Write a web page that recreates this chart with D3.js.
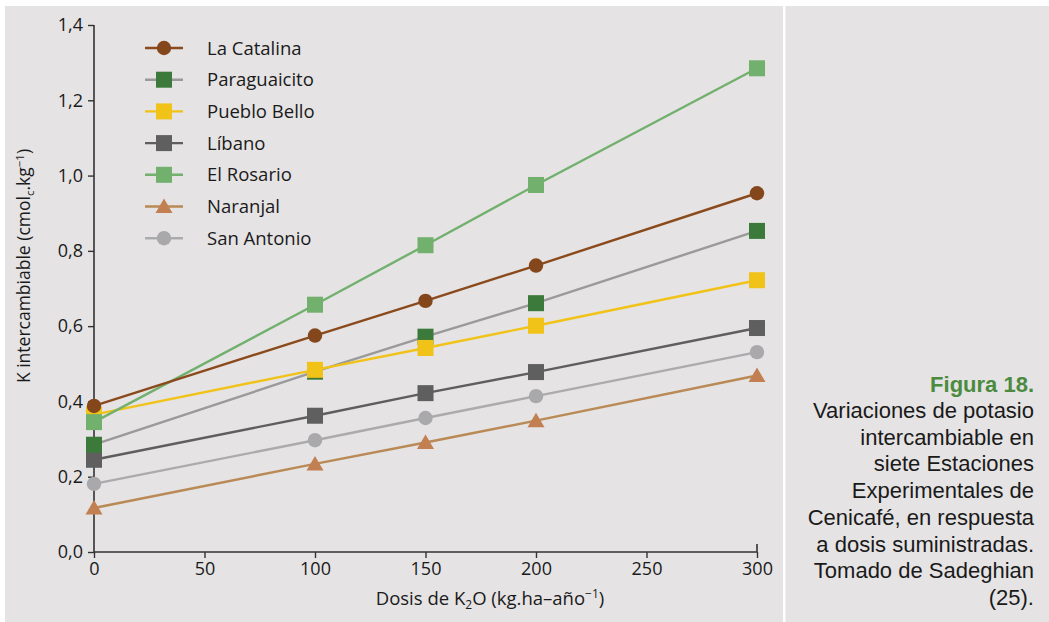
<!DOCTYPE html>
<html><head><meta charset="utf-8">
<script src="https://cdn.jsdelivr.net/npm/d3@7"></script>
<style>
html,body{margin:0;padding:0;background:#fff;}
svg{display:block;}
</style></head>
<body>
<svg id="c" width="1049" height="622"></svg>
<script>
const doses = [0, 100, 150, 200, 300];
const xTicks = [0, 50, 100, 150, 200, 250, 300];
const yTicks = [0, 0.2, 0.4, 0.6, 0.8, 1.0, 1.2, 1.4];
const seriesNames = ["La Catalina", "Paraguaicito", "Pueblo Bello", "Líbano", "El Rosario", "Naranjal", "San Antonio"];
const laCatalina   = [0.388, 0.575, 0.667, 0.761, 0.953];
const paraguaicito = [0.285, 0.479, 0.572, 0.661, 0.853];
const puebloBello  = [0.365, 0.484, 0.542, 0.601, 0.722];
const libano       = [0.245, 0.362, 0.422, 0.478, 0.595];
const elRosario    = [0.345, 0.657, 0.815, 0.975, 1.285];
const naranjal     = [0.117, 0.234, 0.291, 0.349, 0.469];
const sanAntonio   = [0.181, 0.297, 0.356, 0.414, 0.531];
const captionLines = ["Variaciones de potasio", "intercambiable en", "siete Estaciones", "Experimentales de", "Cenicafé, en respuesta", "a dosis suministradas.", "Tomado de Sadeghian", "(25)."];

const styles = [
  {line:"#8a4a1c", fill:"#84461b", shape:"circle"},
  {line:"#9a9a9a", fill:"#3b7a3a", shape:"square"},
  {line:"#f1c319", fill:"#f1c319", shape:"square"},
  {line:"#5e5e5e", fill:"#5f5f5f", shape:"square"},
  {line:"#72b06e", fill:"#72b06e", shape:"square"},
  {line:"#b98a55", fill:"#c27f52", shape:"triangle"},
  {line:"#ababad", fill:"#a9a9ab", shape:"circle"}
];
const values = [laCatalina, paraguaicito, puebloBello, libano, elRosario, naranjal, sanAntonio];
const series = seriesNames.map((n,i)=>({name:n, vals:values[i], st:styles[i]}));

const svg = d3.select("#c");
const font = "'Open Sans', 'Noto Sans', sans-serif";

svg.append("rect").attr("x",5).attr("y",6).attr("width",1044).attr("height",616).attr("fill","#e5e3e4");
svg.append("rect").attr("x",783).attr("y",6).attr("width",2.5).attr("height",616).attr("fill","#ffffff");

const x = d3.scaleLinear().domain([0,300]).range([94,757]);
const y = d3.scaleLinear().domain([0,1.4]).range([552,25]);

const fmt = d => d3.format(".1f")(d).replace(".", ",");

const gy = svg.append("g").attr("transform","translate(94,0)")
  .call(d3.axisLeft(y).tickValues(yTicks).tickFormat(fmt).tickSize(6).tickPadding(5));
const gx = svg.append("g").attr("transform","translate(0,552)")
  .call(d3.axisBottom(x).tickValues(xTicks).tickFormat(d3.format("d")).tickSize(6).tickPadding(4));
[gy,gx].forEach(g=>{
  g.select(".domain").attr("stroke","#333").attr("stroke-width",1.6);
  g.selectAll(".tick line").attr("stroke","#333").attr("stroke-width",1.4);
  g.selectAll(".tick text").attr("fill","#1a1a1a").style("font-family",font).style("font-size","18px");
});
gx.select(".domain").attr("d","M94,0H757V-8");
gy.select(".domain").attr("d","M0,25V552");

function marker(g, st, cx, cy){
  if(st.shape==="circle"){
    g.append("circle").attr("cx",cx).attr("cy",cy).attr("r",7.2).attr("fill",st.fill);
  } else if(st.shape==="square"){
    g.append("rect").attr("x",cx-8).attr("y",cy-8).attr("width",16).attr("height",16).attr("fill",st.fill);
  } else {
    g.append("path").attr("d",`M${cx},${cy-8}L${cx+8.5},${cy+6.5}L${cx-8.5},${cy+6.5}Z`).attr("fill",st.fill);
  }
}

const line = d3.line().x((d,i)=>x(doses[i])).y(d=>y(d));
const plot = svg.append("g");
const order = [6,5,3,1,2,4,0];
order.forEach(i=>{
  const s = series[i];
  plot.append("path").attr("d",line(s.vals)).attr("fill","none").attr("stroke",s.st.line).attr("stroke-width",2.4);
});
order.forEach(i=>{
  const s = series[i];
  s.vals.forEach((v,j)=>marker(plot, s.st, x(doses[j]), y(v)));
});

// legend
const leg = svg.append("g");
series.forEach((s,i)=>{
  const cy = 48 + i*31.7;
  leg.append("line").attr("x1",145).attr("x2",183).attr("y1",cy).attr("y2",cy).attr("stroke",s.st.line).attr("stroke-width",2.4);
  marker(leg, s.st, 164, cy);
  leg.append("text").attr("x",207).attr("y",cy+6.5).text(s.name)
    .style("font-family",font).style("font-size","18.5px").attr("fill","#1a1a1a");
});

// axis titles
const yt = svg.append("text").attr("transform","translate(30,266) rotate(-90)").attr("text-anchor","middle")
  .style("font-family",font).style("font-size","17.5px").attr("fill","#1a1a1a");
yt.append("tspan").text("K intercambiable (cmol");
yt.append("tspan").text("c").attr("dy",4).style("font-size","11.5px");
yt.append("tspan").text(".kg").attr("dy",-4);
yt.append("tspan").text("−1").attr("dy",-6).style("font-size","11.5px");
yt.append("tspan").text(")").attr("dy",6);

const xt = svg.append("text").attr("x",490).attr("y",605).attr("text-anchor","middle")
  .style("font-family",font).style("font-size","18.5px").attr("fill","#1a1a1a");
xt.append("tspan").text("Dosis de K");
xt.append("tspan").text("2").attr("dy",4).style("font-size","12px");
xt.append("tspan").text("O (kg.ha–año").attr("dy",-4);
xt.append("tspan").text("−1").attr("dy",-7).style("font-size","12px");
xt.append("tspan").text(")").attr("dy",7);

// caption
const capFont = "'Liberation Sans', Arial, sans-serif";
svg.append("text").attr("x",1034).attr("y",392).attr("text-anchor","end").text("Figura 18.")
  .style("font-family",capFont).style("font-size","22px").style("font-weight","bold").attr("fill","#4b8b3f");
captionLines.forEach((t,i)=>{
  svg.append("text").attr("x",1034).attr("y",418 + i*26.7).attr("text-anchor","end").text(t)
    .style("font-family",capFont).style("font-size","22px").attr("fill","#1a1a1a");
});
</script>
</body></html>
